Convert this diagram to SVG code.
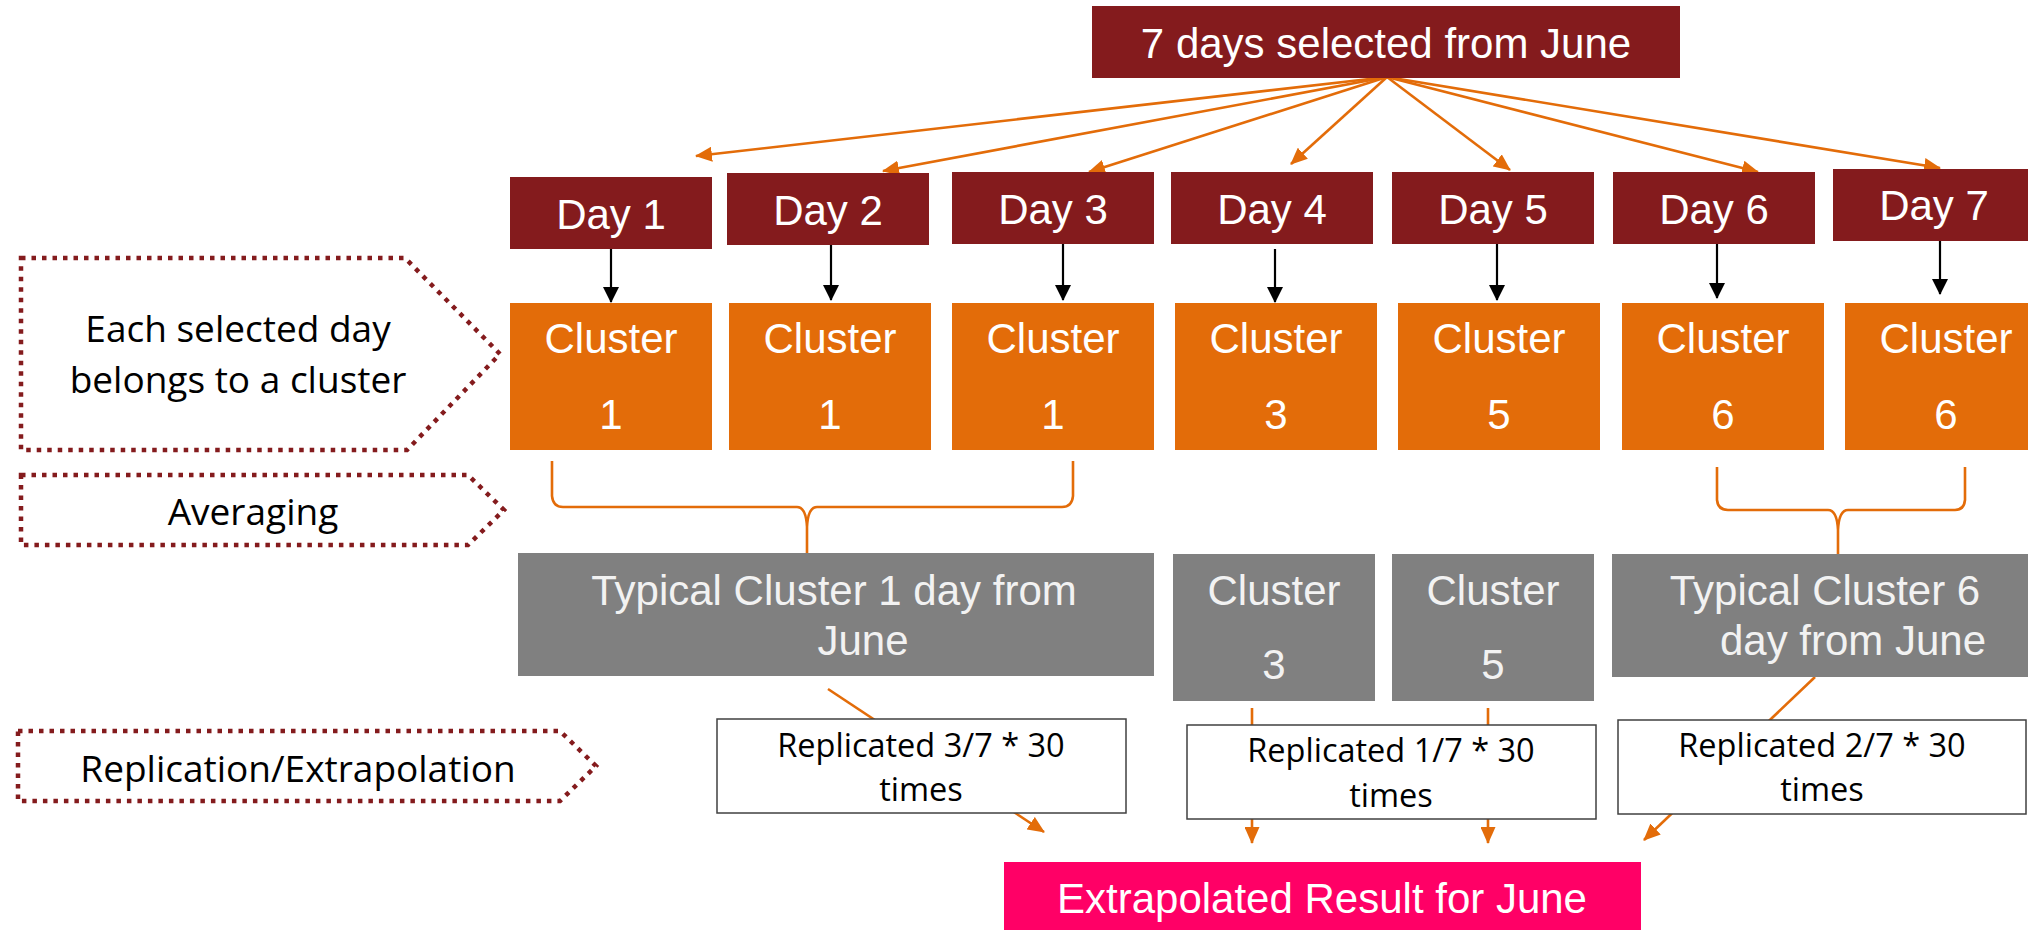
<svg xmlns="http://www.w3.org/2000/svg" width="2028" height="930" viewBox="0 0 2028 930">
<style>
.day{fill:#841B1D}
.clu{fill:#E36C09}
.gry{fill:#808080}
.wbox{fill:#FFFFFF;stroke:#404040;stroke-width:1.5}
.pink{fill:#FF0066}
.wt{font-family:"Liberation Sans",Arial,sans-serif;font-size:42px;fill:#FFFFFF;text-anchor:middle}
.gt{font-family:"Liberation Sans",Arial,sans-serif;font-size:42px;fill:#F2F2F2;text-anchor:middle}
.bt{font-family:"Open Sans","Noto Sans",sans-serif;font-size:37px;fill:#000000;text-anchor:middle}
.rt{font-family:"Open Sans","Noto Sans",sans-serif;font-size:32.5px;fill:#000000;text-anchor:middle}
.dot{fill:#FFFFFF;stroke:#841B1D;stroke-width:4.5;stroke-dasharray:4.5 6}
.oa{stroke:#E36C09;stroke-width:2.6;fill:none;marker-end:url(#ah-o)}
.ba{stroke:#000000;stroke-width:2.2;fill:none;marker-end:url(#ah-b)}
.br{stroke:#E36C09;stroke-width:2.6;fill:none}
</style>
<defs>
<marker id="ah-o" markerUnits="userSpaceOnUse" markerWidth="17" markerHeight="15" refX="16" refY="7.5" orient="auto">
<path d="M0,0 L17,7.5 L0,15 Z" fill="#E36C09"/>
</marker>
<marker id="ah-b" markerUnits="userSpaceOnUse" markerWidth="16" markerHeight="16" refX="15" refY="8" orient="auto">
<path d="M0,0 L16,8 L0,16 Z" fill="#000000"/>
</marker>
</defs>

<g id="connectors">
<line class="oa" x1="1387" y1="77" x2="696" y2="156"/>
<line class="oa" x1="1387" y1="77" x2="883" y2="171"/>
<line class="oa" x1="1387" y1="77" x2="1089" y2="172"/>
<line class="oa" x1="1387" y1="77" x2="1291" y2="164"/>
<line class="oa" x1="1387" y1="77" x2="1510" y2="170"/>
<line class="oa" x1="1387" y1="77" x2="1758" y2="172"/>
<line class="oa" x1="1387" y1="77" x2="1940" y2="168"/>
<line class="ba" x1="611" y1="249" x2="611" y2="302"/>
<line class="ba" x1="831" y1="245" x2="831" y2="300"/>
<line class="ba" x1="1063" y1="244" x2="1063" y2="300"/>
<line class="ba" x1="1275" y1="249" x2="1275" y2="302"/>
<line class="ba" x1="1497" y1="244" x2="1497" y2="300"/>
<line class="ba" x1="1717" y1="244" x2="1717" y2="298"/>
<line class="ba" x1="1940" y1="241" x2="1940" y2="294"/>
<path class="br" d="M552,461 L552,496 Q553,507 563,507 L797,507 Q806,507 807,527 Q808,507 817,507 L1062,507 Q1072,507 1073,496 L1073,461 M807,527 L807,554"/>
<path class="br" d="M1717,467 L1717,500 Q1718,510 1728,510 L1828,510 Q1837,510 1838,530 Q1839,510 1848,510 L1955,510 Q1964,510 1965,500 L1965,467 M1838,530 L1838,554"/>
<line class="oa" x1="828" y1="689" x2="1044" y2="832"/>
<line class="oa" x1="1252" y1="708" x2="1252" y2="843"/>
<line class="oa" x1="1488" y1="708" x2="1488" y2="843"/>
<line class="oa" x1="1815" y1="677" x2="1644" y2="840"/>
</g>

<g id="label-each-day">
<path class="dot" d="M21,258 H405 L500,354 L407,450 H21 Z"/>
<text class="bt" x="238" y="342">Each selected day</text>
<text class="bt" x="238" y="393">belongs to a cluster</text>
</g>
<g id="label-averaging">
<path class="dot" d="M21,475 H468 L504,510 L468,545 H21 Z"/>
<text class="bt" x="253" y="525">Averaging</text>
</g>
<g id="label-replication">
<path class="dot" d="M18,731 H560 L596,766 L560,801 H18 Z"/>
<text class="bt" x="298" y="782">Replication/Extrapolation</text>
</g>

<g id="source">
<rect class="day" x="1092" y="6" width="588" height="72"/>
<text class="wt" x="1386" y="58">7 days selected from June</text>
</g>

<g id="day1"><rect class="day" x="510" y="177" width="202" height="72"/><text class="wt" x="611" y="229">Day 1</text></g>
<g id="day2"><rect class="day" x="727" y="173" width="202" height="72"/><text class="wt" x="828" y="225">Day 2</text></g>
<g id="day3"><rect class="day" x="952" y="172" width="202" height="72"/><text class="wt" x="1053" y="224">Day 3</text></g>
<g id="day4"><rect class="day" x="1171" y="172" width="202" height="72"/><text class="wt" x="1272" y="224">Day 4</text></g>
<g id="day5"><rect class="day" x="1392" y="172" width="202" height="72"/><text class="wt" x="1493" y="224">Day 5</text></g>
<g id="day6"><rect class="day" x="1613" y="172" width="202" height="72"/><text class="wt" x="1714" y="224">Day 6</text></g>
<g id="day7"><rect class="day" x="1833" y="169" width="202" height="72"/><text class="wt" x="1934" y="220">Day 7</text></g>

<g id="cluster-a"><rect class="clu" x="510" y="303" width="202" height="147"/><text class="wt" x="611" y="353">Cluster</text><text class="wt" x="611" y="429">1</text></g>
<g id="cluster-b"><rect class="clu" x="729" y="303" width="202" height="147"/><text class="wt" x="830" y="353">Cluster</text><text class="wt" x="830" y="429">1</text></g>
<g id="cluster-c"><rect class="clu" x="952" y="303" width="202" height="147"/><text class="wt" x="1053" y="353">Cluster</text><text class="wt" x="1053" y="429">1</text></g>
<g id="cluster-d"><rect class="clu" x="1175" y="303" width="202" height="147"/><text class="wt" x="1276" y="353">Cluster</text><text class="wt" x="1276" y="429">3</text></g>
<g id="cluster-e"><rect class="clu" x="1398" y="303" width="202" height="147"/><text class="wt" x="1499" y="353">Cluster</text><text class="wt" x="1499" y="429">5</text></g>
<g id="cluster-f"><rect class="clu" x="1622" y="303" width="202" height="147"/><text class="wt" x="1723" y="353">Cluster</text><text class="wt" x="1723" y="429">6</text></g>
<g id="cluster-g"><rect class="clu" x="1845" y="303" width="202" height="147"/><text class="wt" x="1946" y="353">Cluster</text><text class="wt" x="1946" y="429">6</text></g>

<g id="typical1">
<rect class="gry" x="518" y="553" width="636" height="123"/>
<text class="gt" x="834" y="605">Typical Cluster 1 day from</text>
<text class="gt" x="863" y="655">June</text>
</g>
<g id="avg-cluster3">
<rect class="gry" x="1173" y="554" width="202" height="147"/>
<text class="gt" x="1274" y="605">Cluster</text>
<text class="gt" x="1274" y="679">3</text>
</g>
<g id="avg-cluster5">
<rect class="gry" x="1392" y="554" width="202" height="147"/>
<text class="gt" x="1493" y="605">Cluster</text>
<text class="gt" x="1493" y="679">5</text>
</g>
<g id="typical6">
<rect class="gry" x="1612" y="554" width="420" height="123"/>
<text class="gt" x="1825" y="605">Typical Cluster 6</text>
<text class="gt" x="1853" y="655">day from June</text>
</g>

<g id="rep1">
<rect class="wbox" x="717" y="719" width="409" height="94"/>
<text class="rt" x="921" y="757">Replicated 3/7 * 30</text>
<text class="rt" x="921" y="801">times</text>
</g>
<g id="rep2">
<rect class="wbox" x="1187" y="725" width="409" height="94"/>
<text class="rt" x="1391" y="762">Replicated 1/7 * 30</text>
<text class="rt" x="1391" y="807">times</text>
</g>
<g id="rep3">
<rect class="wbox" x="1618" y="720" width="408" height="94"/>
<text class="rt" x="1822" y="757">Replicated 2/7 * 30</text>
<text class="rt" x="1822" y="801">times</text>
</g>

<g id="result">
<rect class="pink" x="1004" y="862" width="637" height="70"/>
<text class="wt" x="1322" y="913">Extrapolated Result for June</text>
</g>
</svg>
